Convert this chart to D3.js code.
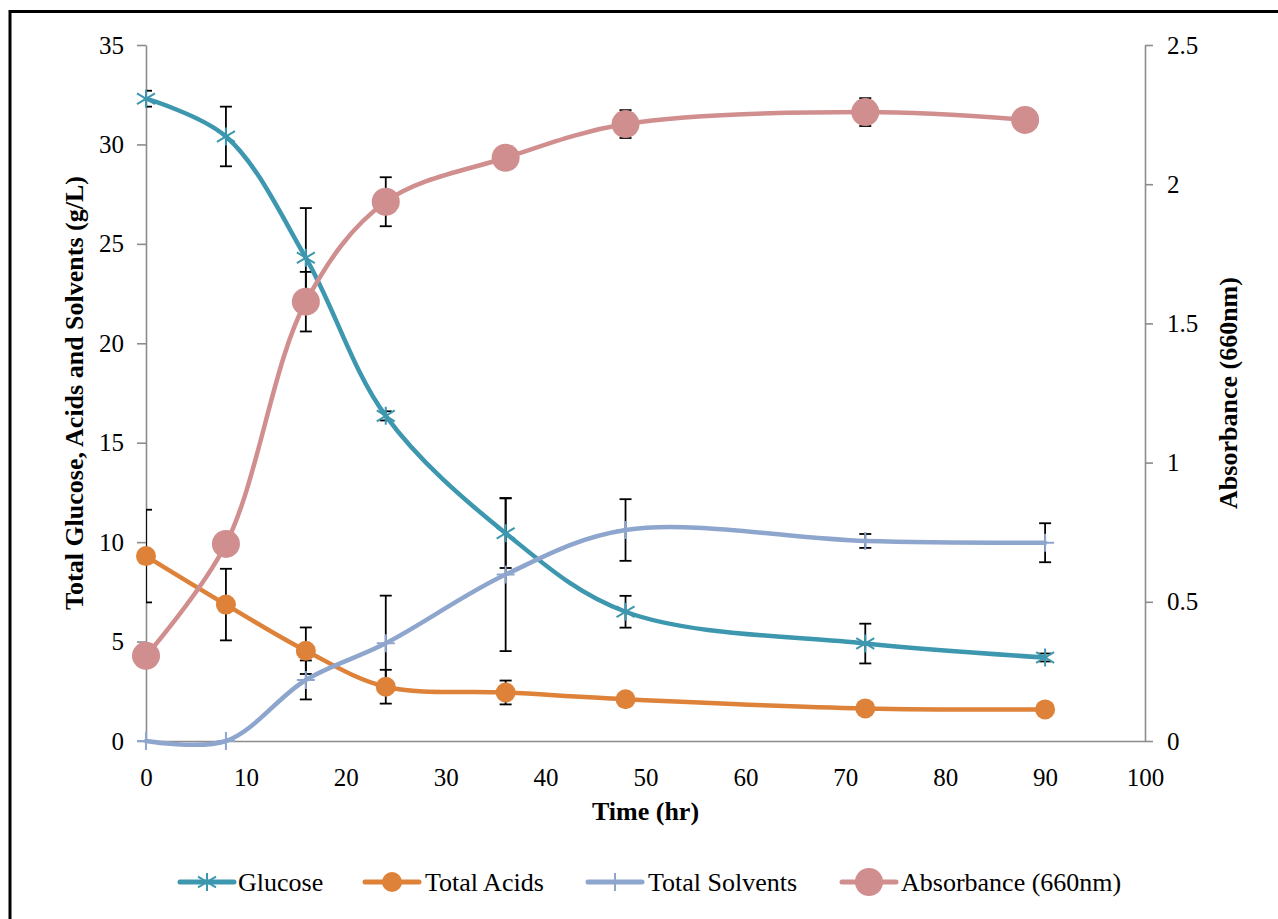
<!DOCTYPE html>
<html><head><meta charset="utf-8">
<script src="https://cdn.jsdelivr.net/npm/d3@7"></script>
<style>html,body{margin:0;padding:0;background:#fff;} svg{display:block;}</style>
</head><body>
<script>
// ---- data ----
const time = [0, 8, 16, 24, 36, 48, 72, 90];
const glucose = [32.3, 30.4, 24.3, 16.35, 10.45, 6.5, 4.9, 4.2];
const glucoseErr = [0.4, 1.5, 2.5, 0.23, 1.75, 0.8, 1.0, 0.2];
const acids = [9.3, 6.86, 4.54, 2.73, 2.44, 2.1, 1.64, 1.59];
const acidsErr = [2.33, 1.8, 1.17, 0.85, 0.6, 0.1, 0.1, 0.1];
const solvents = [0, 0, 3.07, 4.91, 8.37, 10.61, 10.06, 9.97];
const solventsErr = [0, 0, 0.98, 2.4, 3.85, 1.55, 0.35, 0.98];
const absTime = [0, 8, 16, 24, 36, 48, 72, 88];
const absorbance = [0.306, 0.708, 1.578, 1.937, 2.095, 2.216, 2.259, 2.231];
const absErr = [0.02, 0.02, 0.107, 0.088, 0.02, 0.05, 0.05, 0.02];
const xTicks = [0,10,20,30,40,50,60,70,80,90,100];
const yLeftTicks = [0,5,10,15,20,25,30,35];
const yRightTicks = [0,0.5,1,1.5,2,2.5];
const seriesNames = ["Glucose","Total Acids","Total Solvents","Absorbance (660nm)"];
const colors = ["#3D97AF","#DD8238","#8EA6CD","#D08E8E"];

const W = 1278, H = 919;
const svg = d3.select("body").append("svg").attr("width", W).attr("height", H)
  .style("font-family","'Liberation Serif','Times New Roman',serif");

// outer frame
svg.append("rect").attr("x",10).attr("y",11.5).attr("width",1400).attr("height",1000)
  .attr("fill","none").attr("stroke","#000").attr("stroke-width",3);

const L = 146, R = 1145, T = 45, B = 741;
const x = d3.scaleLinear().domain([0,100]).range([L,R]);
const y = d3.scaleLinear().domain([0,35]).range([B,T]);
const y2 = d3.scaleLinear().domain([0,2.5]).range([B,T]);

const axisColor = "#8c8c8c";
// x axis
const gx = svg.append("g").attr("transform",`translate(0,${B})`)
  .call(d3.axisBottom(x).tickValues(xTicks).tickSize(0).tickPadding(27).tickFormat(d3.format("d")));
gx.select(".domain").attr("stroke",axisColor).attr("stroke-width",1.6);
gx.selectAll("text").attr("font-size",25).attr("fill","#000").attr("font-family","'Liberation Serif',serif");

// left axis
const gy = svg.append("g").attr("transform",`translate(${L},0)`)
  .call(d3.axisLeft(y).tickValues(yLeftTicks).tickSize(9).tickSizeOuter(0).tickPadding(13));
gy.select(".domain").attr("stroke",axisColor).attr("stroke-width",1.6);
gy.selectAll(".tick line").attr("stroke",axisColor).attr("stroke-width",1.6);
gy.selectAll("text").attr("font-size",25).attr("fill","#000").attr("font-family","'Liberation Serif',serif");

// right axis
const gy2 = svg.append("g").attr("transform",`translate(${R},0)`)
  .call(d3.axisRight(y2).tickValues(yRightTicks).tickSize(8).tickSizeOuter(0).tickPadding(14).tickFormat(d => d3.format("")(d)));
gy2.select(".domain").attr("stroke",axisColor).attr("stroke-width",1.6);
gy2.selectAll(".tick line").attr("stroke",axisColor).attr("stroke-width",1.6);
gy2.selectAll("text").attr("font-size",25).attr("fill","#000").attr("font-family","'Liberation Serif',serif");

// axis titles
svg.append("text").attr("x",(L+R)/2).attr("y",820).attr("text-anchor","middle")
  .attr("font-size",26).attr("font-weight","bold").text("Time (hr)");
svg.append("text").attr("transform",`translate(83,393) rotate(-90)`).attr("text-anchor","middle")
  .attr("font-size",26).attr("font-weight","bold").text("Total Glucose, Acids and Solvents (g/L)");
svg.append("text").attr("transform",`translate(1237,393) rotate(-90)`).attr("text-anchor","middle")
  .attr("font-size",26).attr("font-weight","bold").text("Absorbance (660nm)");

// clip for error bars
svg.append("clipPath").attr("id","plotclip").append("rect")
  .attr("x",L).attr("y",0).attr("width",R-L+20).attr("height",B+5);

const series = [
  {t: time, v: glucose, e: glucoseErr, ys: y, c: colors[0], m: "asterisk"},
  {t: time, v: acids, e: acidsErr, ys: y, c: colors[1], m: "smallcircle"},
  {t: time, v: solvents, e: solventsErr, ys: y, c: colors[2], m: "plus"},
  {t: absTime, v: absorbance, e: absErr, ys: y2, c: colors[3], m: "bigcircle"}
];

// error bars
const eg = svg.append("g").attr("clip-path","url(#plotclip)");
series.forEach(s => {
  s.t.forEach((tv,i) => {
    if (!s.e[i]) return;
    const cx = x(tv), y1 = s.ys(s.v[i]+s.e[i]), y0 = s.ys(s.v[i]-s.e[i]);
    eg.append("line").attr("x1",cx).attr("x2",cx).attr("y1",y1).attr("y2",y0).attr("stroke","#000").attr("stroke-width",1.8);
    [y1,y0].forEach(yy => eg.append("line").attr("x1",cx-6).attr("x2",cx+6).attr("y1",yy).attr("y2",yy).attr("stroke","#000").attr("stroke-width",1.8));
  });
});

function drawMarker(g, type, cx, cy, c) {
  if (type === "asterisk") {
    const a = 9;
    g.append("path").attr("d",`M${cx-a},${cy-a*0.6}L${cx+a},${cy+a*0.6}M${cx-a},${cy+a*0.6}L${cx+a},${cy-a*0.6}M${cx},${cy-a}L${cx},${cy+a}`)
      .attr("stroke",c).attr("stroke-width",2).attr("fill","none");
  } else if (type === "plus") {
    const a = 9;
    g.append("path").attr("d",`M${cx-a},${cy}L${cx+a},${cy}M${cx},${cy-a}L${cx},${cy+a}`)
      .attr("stroke",c).attr("stroke-width",2).attr("fill","none");
  } else if (type === "smallcircle") {
    g.append("circle").attr("cx",cx).attr("cy",cy).attr("r",10).attr("fill",c);
  } else {
    g.append("circle").attr("cx",cx).attr("cy",cy).attr("r",14).attr("fill",c);
  }
}

const line = d3.line().curve(d3.curveCatmullRom.alpha(0.5));
series.forEach(s => {
  const g = svg.append("g");
  const pts = s.t.map((tv,i) => [x(tv), s.ys(s.v[i])]);
  g.append("path").attr("d", line(pts)).attr("fill","none").attr("stroke",s.c).attr("stroke-width",4.5).attr("stroke-linecap","round");
  pts.forEach(p => drawMarker(g, s.m, p[0], p[1], s.c));
});

// legend
const legendItems = [
  {x0:180, tx:238},
  {x0:365, tx:425},
  {x0:588, tx:648},
  {x0:842, tx:901}
];
const ly = 882;
legendItems.forEach((it,i) => {
  const s = series[i];
  const g = svg.append("g");
  g.append("line").attr("x1",it.x0).attr("x2",it.x0+54).attr("y1",ly).attr("y2",ly)
    .attr("stroke",s.c).attr("stroke-width",5).attr("stroke-linecap","round");
  drawMarker(g, s.m, it.x0+27, ly, s.c);
  g.append("text").attr("x",it.tx).attr("y",ly+9).attr("font-size",26).attr("fill","#000").text(seriesNames[i]);
});
</script>
</body></html>
